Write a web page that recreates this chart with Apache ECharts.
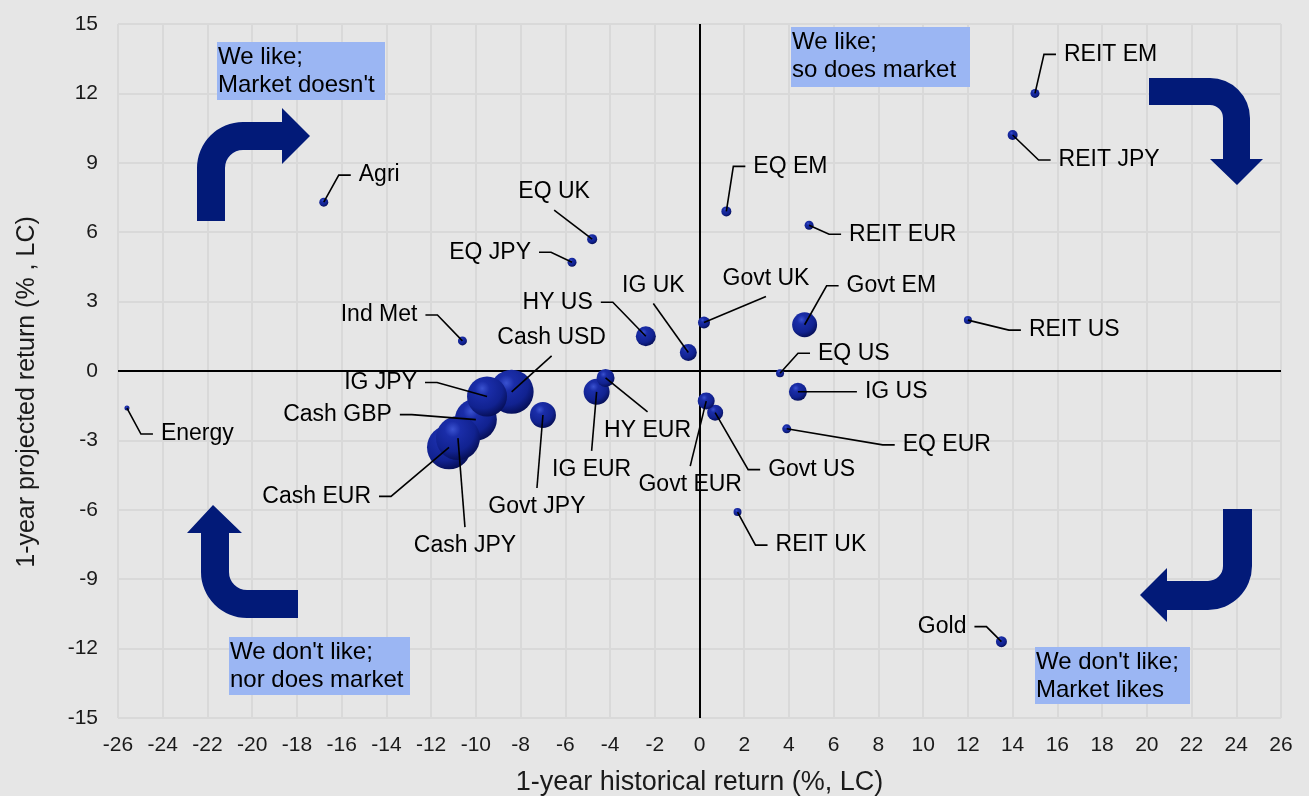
<!DOCTYPE html>
<html>
<head>
<meta charset="utf-8">
<script src="https://cdn.jsdelivr.net/npm/echarts@6/dist/echarts.min.js"></script>
<style>
  html, body { margin: 0; padding: 0; background: #e6e6e6; }
  #chart { width: 1309px; height: 796px; }
</style>
</head>
<body>
<div id="chart"></div>
<script>
// Asset classes: 1-year historical return vs 1-year projected return (% , local currency)
const assets = [
  'REIT EM', 'REIT JPY', 'EQ EM', 'REIT EUR', 'Agri', 'EQ UK', 'EQ JPY', 'Ind Met',
  'HY US', 'IG UK', 'Govt UK', 'Govt EM', 'REIT US', 'EQ US', 'IG US', 'EQ EUR',
  'Govt US', 'Govt EUR', 'REIT UK', 'Gold', 'Energy', 'IG EUR', 'HY EUR', 'Govt JPY',
  'Cash USD', 'Cash GBP', 'Cash EUR', 'IG JPY', 'Cash JPY'
];
const historicalReturn = [
  15.0, 14.0, 1.2, 4.9, -16.8, -4.8, -5.7, -10.6,
  -2.4, -0.5, 0.2, 4.7, 12.0, 3.6, 4.4, 3.9,
  0.7, 0.3, 1.7, 13.5, -25.6, -4.6, -4.2, -7.0,
  -8.4, -10.0, -11.2, -9.5, -10.8
];
const projectedReturn = [
  12.0, 10.2, 6.9, 6.3, 7.3, 5.7, 4.7, 1.3,
  1.5, 0.8, 2.1, 2.0, 2.2, -0.1, -0.9, -2.5,
  -1.8, -1.3, -6.1, -11.7, -1.6, -0.9, -0.3, -1.9,
  -0.9, -2.1, -3.3, -1.1, -2.9
];
// bubble diameter in px
const bubbleSize = [
  9, 10, 10, 9, 9, 10, 9, 9,
  20, 17, 12, 25, 8, 8, 18, 9,
  16, 17, 8, 11, 5, 26, 18, 26,
  44, 42, 44, 40, 44
];
const xTicks = { min: -26, max: 26, step: 2 };
const yTicks = { min: -15, max: 15, step: 3 };

// label placement: [dx, dy, side] relative to the bubble centre, in px
// side: r = text right of point, l = text left, t = above, b = below
const labelPlacement = {
  'REIT EM': [29, -39, 'r'], 'REIT JPY': [46, 25, 'r'], 'EQ EM': [27, -45, 'r'],
  'REIT EUR': [40, 9, 'r'], 'Agri': [35, -27, 'r'], 'EQ UK': [-38, -47, 't'],
  'EQ JPY': [-41, -10, 'l'], 'Ind Met': [-45, -26, 'l'], 'HY US': [-53, -34, 'l'],
  'IG UK': [-35, -67, 't'], 'Govt UK': [62, -44, 't'], 'Govt EM': [42, -39, 'r'],
  'REIT US': [61, 10, 'r'], 'EQ US': [38, -20, 'r'], 'IG US': [67, 0, 'r'],
  'EQ EUR': [116, 16, 'r'], 'Govt US': [53, 57, 'r'], 'Govt EUR': [-16, 84, 'b'],
  'REIT UK': [38, 33, 'r'], 'Gold': [-35, -15, 'l'], 'Energy': [34, 26, 'r'],
  'IG EUR': [-5, 78, 'b'], 'HY EUR': [42, 53, 'b'], 'Govt JPY': [-6, 92, 'b'],
  'Cash USD': [40, -54, 't'], 'Cash GBP': [-84, -5, 'l'], 'Cash EUR': [-78, 49, 'l'],
  'IG JPY': [-70, -14, 'l'], 'Cash JPY': [7, 108, 'b']
};

const FONT = '"Liberation Sans", Arial, sans-serif';
const ARROW = '#021a78';
const BOX = '#9bb6f3';

const points = assets.map((name, i) => ({
  name: name,
  value: [historicalReturn[i], projectedReturn[i]],
  symbolSize: bubbleSize[i]
}));

const quadrantNotes = [
  { x: 217, y: 42, w: 168, h: 58, text: "We like;\nMarket doesn't" },
  { x: 791, y: 27, w: 179, h: 60, text: 'We like;\nso does market' },
  { x: 229, y: 637, w: 181, h: 58, text: "We don't like;\nnor does market" },
  { x: 1035, y: 647, w: 155, h: 57, text: "We don't like;\nMarket likes" }
];

// curved direction arrows in each quadrant
const arrowPaths = [
  'M197 221 L197 168 A46 46 0 0 1 243 122 L282 122 L282 108 L310 136 L282 164 L282 150 L243 150 A18 18 0 0 0 225 168 L225 221 Z',
  'M1149 78 L1210 78 A40 40 0 0 1 1250 118 L1250 159 L1263 159 L1237 185 L1210 159 L1223 159 L1223 118 A13 13 0 0 0 1210 105 L1149 105 Z',
  'M213 505 L242 533 L229 533 L229 572 A18 18 0 0 0 247 590 L298 590 L298 618 L247 618 A46 46 0 0 1 201 572 L201 533 L187 533 Z',
  'M1223 509 L1252 509 L1252 566 A44 44 0 0 1 1208 610 L1167 610 L1167 622 L1140 595 L1167 568 L1167 581 L1208 581 A15 15 0 0 0 1223 566 Z'
];

const graphics = [];
quadrantNotes.forEach(n => {
  graphics.push({ type: 'rect', shape: { x: n.x, y: n.y, width: n.w, height: n.h }, style: { fill: BOX }, z: 2 });
  graphics.push({
    type: 'text', x: n.x + 1, y: n.y + 1, z: 3,
    style: { text: n.text, fontSize: 24, fontFamily: FONT, lineHeight: 28, fill: '#000', verticalAlign: 'top' }
  });
});
graphics.push({
  type: 'text', x: 27, y: 392, rotation: Math.PI / 2, z: 3,
  style: { text: '1-year projected return (% , LC)', fontSize: 25, fontFamily: FONT, fill: '#1a1a1a', align: 'center', verticalAlign: 'middle' }
});

const chart = echarts.init(document.getElementById('chart'), null, { renderer: 'canvas' });
chart.setOption({
  backgroundColor: '#e6e6e6',
  animation: false,
  grid: { left: 118, right: 28, top: 24, bottom: 78, containLabel: false, outerBoundsMode: 'none' },
  xAxis: {
    type: 'value', min: xTicks.min, max: xTicks.max, interval: xTicks.step,
    name: '1-year historical return (%, LC)', nameLocation: 'middle', nameGap: 51,
    nameTextStyle: { fontSize: 27, fontFamily: FONT, color: '#1a1a1a' },
    axisLine: { show: false }, axisTick: { show: false },
    axisLabel: { fontSize: 21, fontFamily: FONT, color: '#1a1a1a', margin: 17 },
    splitLine: { show: true, lineStyle: { color: '#d9d9d9', width: 2 } }
  },
  yAxis: {
    type: 'value', min: yTicks.min, max: yTicks.max, interval: yTicks.step,
    axisLine: { show: false }, axisTick: { show: false },
    axisLabel: { fontSize: 21, fontFamily: FONT, color: '#1a1a1a', margin: 20 },
    splitLine: { show: true, lineStyle: { color: '#d9d9d9', width: 2 } }
  },
  graphic: graphics,
  series: [
    {
      // quadrant arrows, drawn in screen space
      type: 'custom',
      coordinateSystem: 'none',
      z: 2,
      silent: true,
      data: [0],
      renderItem: function () {
        return {
          type: 'group',
          children: arrowPaths.map(d => ({ type: 'path', shape: { pathData: d }, style: { fill: ARROW } }))
        };
      }
    },
    {
      type: 'scatter',
      z: 3,
      data: points,
      itemStyle: {
        opacity: 1,
        color: {
          type: 'radial', x: 0.38, y: 0.3, r: 0.72,
          colorStops: [
            { offset: 0, color: '#3a52d0' },
            { offset: 0.25, color: '#1a2da8' },
            { offset: 0.7, color: '#112290' },
            { offset: 1, color: '#060f58' }
          ]
        }
      },
      emphasis: { disabled: true },
      markLine: {
        z: 1, silent: true, symbol: 'none', animation: false,
        label: { show: false },
        lineStyle: { color: '#000', width: 2, type: 'solid' },
        data: [{ xAxis: 0 }, { yAxis: 0 }]
      }
    },
    {
      type: 'custom',
      z: 4,
      silent: true,
      data: assets.map((n, i) => [historicalReturn[i], projectedReturn[i]]),
      renderItem: function (params, api) {
        const name = assets[params.dataIndex];
        const p = api.coord([api.value(0), api.value(1)]);
        const pl = labelPlacement[name];
        const tx = p[0] + pl[0], ty = p[1] + pl[1];
        let pts, align;
        if (pl[2] === 'r') { align = 'left'; pts = [p, [tx - 20, ty], [tx - 8, ty]]; }
        else if (pl[2] === 'l') { align = 'right'; pts = [p, [tx + 20, ty], [tx + 8, ty]]; }
        else if (pl[2] === 't') { align = 'center'; pts = [p, [tx, ty + 18]]; }
        else { align = 'center'; pts = [p, [tx, ty - 19]]; }
        return {
          type: 'group',
          children: [
            { type: 'polyline', shape: { points: pts }, style: { stroke: '#000', lineWidth: 1.6, fill: null } },
            { type: 'text', x: tx, y: ty, style: { text: name, align: align, verticalAlign: 'middle', fontSize: 23, fontFamily: FONT, fill: '#000' } }
          ]
        };
      }
    }
  ]
});
</script>
</body>
</html>
